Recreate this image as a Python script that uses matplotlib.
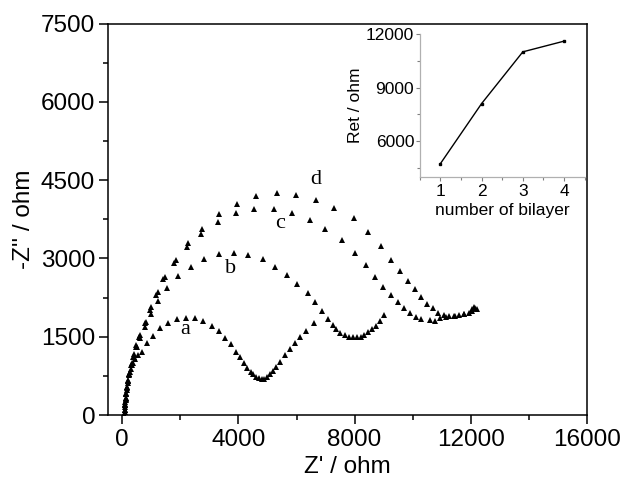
import matplotlib
matplotlib.use("Agg")
import matplotlib.pyplot as plt
from matplotlib.ticker import MultipleLocator

plt.rcParams['font.family'] = ['Liberation Sans', 'DejaVu Sans']

# ---- main Nyquist data (Z', -Z'') ----
a_x = [70, 80, 95, 110, 125, 145, 170, 200, 240, 290, 360, 450, 545, 668, 841, 1048, 1300, 1565, 1875, 2186,
       2507, 2794, 3081, 3334, 3541, 3737, 3909, 4059, 4197, 4312, 4426, 4518, 4610, 4714, 4806, 4886, 4978,
       5070, 5174, 5289, 5438, 5610, 5783, 5932, 6103, 6334, 6586]
a_y = [0, 60, 150, 240, 330, 430, 540, 650, 770, 880, 990, 1080, 1140, 1213, 1373, 1520, 1660, 1769, 1839, 1865,
       1852, 1801, 1711, 1609, 1481, 1354, 1213, 1105, 990, 894, 830, 779, 734, 702, 683, 690, 734,
       785, 849, 926, 1022, 1149, 1264, 1373, 1500, 1615, 1756]

b_x = [70, 90, 110, 130, 160, 200, 250, 320, 400, 500, 620, 780, 980, 1242, 1553, 1932, 2357, 2829, 3346, 3863,
       4346, 4840, 5266, 5668, 6013, 6380, 6645, 6875, 7070, 7242, 7369, 7507, 7656, 7794, 7932, 8081, 8231,
       8334, 8461, 8599, 8749, 8887, 9025]
b_y = [0, 100, 220, 330, 470, 620, 780, 960, 1120, 1300, 1480, 1690, 1930, 2190, 2427, 2663, 2842, 2982, 3084, 3110,
       3065, 2982, 2842, 2682, 2503, 2331, 2158, 1999, 1839, 1724, 1648, 1577, 1533, 1501, 1488, 1488, 1501,
       1533, 1584, 1648, 1705, 1807, 1916]

c_x = [70, 85, 100, 115, 135, 160, 195, 240, 300, 380, 461, 576, 783, 955, 1180, 1392, 1783, 2220, 2714, 3311,
       3921, 4541, 5208, 5840, 6449, 6990, 7564, 8001, 8392, 8691, 8978, 9254, 9484, 9714, 9921, 10116, 10300,
       10588, 10783, 10956, 11150, 11450, 11750, 12050, 12150]
c_y = [0, 90, 190, 290, 400, 520, 650, 790, 950, 1117, 1309, 1501, 1756, 2011, 2300, 2599, 2918, 3212, 3467, 3691,
       3863, 3946, 3940, 3863, 3736, 3557, 3352, 3110, 2874, 2650, 2458, 2299, 2171, 2056, 1960, 1884, 1833,
       1820, 1807, 1850, 1880, 1900, 1930, 2000, 2050]

d_x = [75, 90, 105, 122, 142, 168, 205, 255, 320, 400, 490, 610, 810, 1000, 1240, 1472, 1852, 2277, 2737, 3346,
       3967, 4610, 5323, 5990, 6679, 7277, 7967, 8461, 8909, 9254, 9553, 9841, 10093, 10300, 10496, 10691,
       10875, 11071, 11243, 11414, 11586, 11759, 11931, 12048, 12103, 12197]
d_y = [0, 100, 200, 300, 410, 530, 670, 820, 990, 1160, 1340, 1540, 1790, 2060, 2360, 2650, 2969, 3289, 3557, 3844,
       4042, 4195, 4247, 4215, 4119, 3959, 3768, 3512, 3238, 2969, 2765, 2573, 2407, 2254, 2126, 2043,
       1960, 1916, 1897, 1903, 1916, 1935, 1961, 2024, 2062, 2024]

curve_labels = ['a', 'b', 'c', 'd']
label_x = [2162, 3714, 5424, 6645]
label_y = [1629, 2804, 3661, 4518]

# ---- inset data ----
bilayers = [1, 2, 3, 4]
ret_values = [4730, 8100, 11000, 11600]

fig = plt.figure(figsize=(6.2, 4.79), dpi=100)
ax = fig.add_axes([0.1737, 0.1336, 0.7731, 0.8173])

for xs, ys in [(a_x, a_y), (b_x, b_y), (c_x, c_y), (d_x, d_y)]:
    ax.plot(xs, ys, linestyle='none', marker='^', color='black', markersize=4.8, markeredgewidth=0)

for lab, lx, ly in zip(curve_labels, label_x, label_y):
    ax.text(lx, ly, lab, family='Liberation Serif', fontsize=16, ha='center', va='center')

ax.set_xlim(-500, 16000)
ax.set_ylim(0, 7500)
ax.xaxis.set_major_locator(MultipleLocator(4000))
ax.xaxis.set_minor_locator(MultipleLocator(2000))
ax.yaxis.set_major_locator(MultipleLocator(1500))
ax.yaxis.set_minor_locator(MultipleLocator(750))
ax.tick_params(which='both', direction='out', top=False, right=False, labelsize=17.5, width=1.1)
ax.tick_params(which='major', length=6.5)
ax.tick_params(which='minor', length=3.5)
ax.tick_params(axis='y', pad=2.5)
for s in ax.spines.values():
    s.set_linewidth(1.1)
ax.set_xlabel("Z' / ohm", fontsize=17.5, labelpad=4)
ax.set_ylabel("-Z'' / ohm", fontsize=17.5, labelpad=4)

# ---- inset ----
ins = fig.add_axes([0.677, 0.631, 0.266, 0.298])
ins.plot(bilayers, ret_values, color='black', linewidth=1.0, marker='s', markersize=1.8)
ins.set_xlim(0.5, 4.5)
ins.set_ylim(4000, 12000)
ins.xaxis.set_major_locator(MultipleLocator(1))
ins.xaxis.set_minor_locator(MultipleLocator(0.5))
ins.yaxis.set_major_locator(MultipleLocator(3000))
ins.yaxis.set_minor_locator(MultipleLocator(1500))
ins.spines['top'].set_visible(False)
ins.spines['right'].set_visible(False)
for side in ['left', 'bottom']:
    ins.spines[side].set_color('#b0b0b0')
    ins.spines[side].set_linewidth(0.9)
ins.tick_params(which='both', direction='out', color='#808080', labelsize=12.5, width=0.8)
ins.tick_params(which='major', length=3)
ins.tick_params(which='minor', length=2)
ins.tick_params(axis='x', pad=2)
ins.tick_params(axis='y', pad=1)
ins.set_xlabel('number of bilayer', fontsize=12.5, labelpad=3)
ins.set_ylabel('Ret / ohm', fontsize=12.5, labelpad=2)
ins.patch.set_alpha(0)

fig.savefig('out.png', dpi=100)
